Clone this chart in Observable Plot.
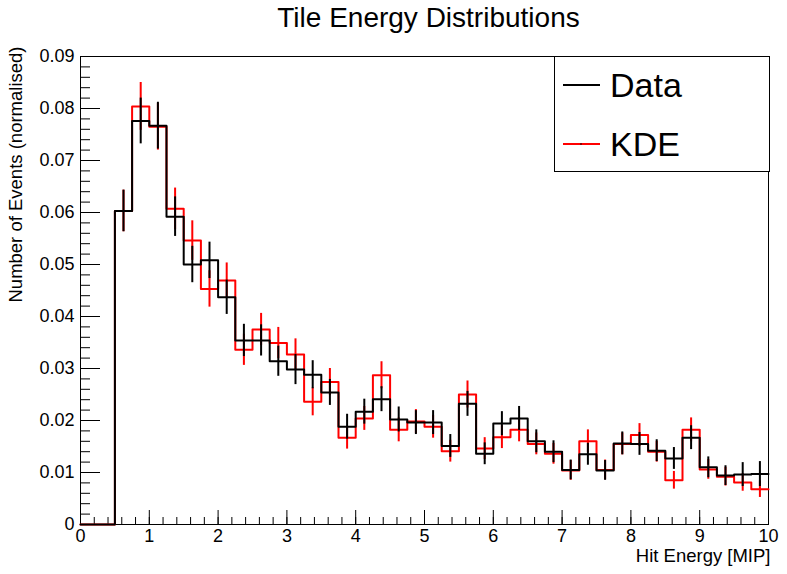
<!DOCTYPE html>
<html>
<head>
<meta charset="utf-8">
<script src="https://cdn.jsdelivr.net/npm/d3@7"></script>
<script src="https://cdn.jsdelivr.net/npm/@observablehq/plot@0.6"></script>
<style>
  body { margin: 0; background: #fff; }
  #chart { position: relative; width: 787px; height: 574px; font-family: "Liberation Sans", Arial, sans-serif; }
  #legend { position: absolute; left: 554px; top: 56px; }
</style>
</head>
<body>
<div id="chart"><div id="legend"></div></div>
<script>
// Histogram bins: lower edges in MIP, each 0.25 wide
const binWidth = 0.25;
const binLow = [0, 0.25, 0.5, 0.75, 1, 1.25, 1.5, 1.75, 2, 2.25, 2.5, 2.75, 3, 3.25, 3.5, 3.75,
  4, 4.25, 4.5, 4.75, 5, 5.25, 5.5, 5.75, 6, 6.25, 6.5, 6.75, 7, 7.25, 7.5, 7.75,
  8, 8.25, 8.5, 8.75, 9, 9.25, 9.5, 9.75];

// Normalised bin contents
const dataValues = [0, 0, 0.0603, 0.0776, 0.0767, 0.0592, 0.0500, 0.0508, 0.0437, 0.0354, 0.0354, 0.0314,
  0.0298, 0.0288, 0.0254, 0.0188, 0.0217, 0.0241, 0.0202, 0.0196, 0.0196, 0.0151, 0.0232, 0.0136,
  0.0194, 0.0204, 0.0160, 0.0140, 0.0105, 0.0135, 0.0104, 0.0156, 0.0155, 0.0142, 0.0127, 0.0167,
  0.0110, 0.0094, 0.0096, 0.0097];
const kdeValues = [0, 0, 0.0603, 0.0804, 0.0765, 0.0607, 0.0546, 0.0453, 0.0469, 0.0336, 0.0375, 0.0349,
  0.0327, 0.0236, 0.0274, 0.0167, 0.0204, 0.0287, 0.0182, 0.0198, 0.0188, 0.0141, 0.0250, 0.0146,
  0.0168, 0.0182, 0.0155, 0.0136, 0.0104, 0.0160, 0.0105, 0.0155, 0.0172, 0.0140, 0.0085, 0.0182,
  0.0106, 0.0092, 0.0081, 0.0068];

// Per-bin uncertainties (half height of the error bars)
const dataErrors = [0, 0, 0.0040, 0.0044, 0.0045, 0.0038, 0.0035, 0.0035, 0.0033, 0.0031, 0.0030, 0.0029,
  0.0029, 0.0027, 0.0025, 0.0024, 0.0024, 0.0024, 0.0024, 0.0023, 0.0023, 0.0022, 0.0024, 0.0021,
  0.0023, 0.0023, 0.0022, 0.0021, 0.0019, 0.0021, 0.0019, 0.0022, 0.0022, 0.0021, 0.0021, 0.0023,
  0.0020, 0.0019, 0.0023, 0.0024];
const kdeErrors = [0, 0, 0.0040, 0.0046, 0.0045, 0.0040, 0.0038, 0.0035, 0.0034, 0.0030, 0.0031, 0.0030,
  0.0030, 0.0027, 0.0026, 0.0022, 0.0023, 0.0026, 0.0023, 0.0023, 0.0022, 0.0021, 0.0026, 0.0021,
  0.0022, 0.0023, 0.0021, 0.0020, 0.0019, 0.0022, 0.0019, 0.0021, 0.0022, 0.0020, 0.0017, 0.0023,
  0.0019, 0.0018, 0.0017, 0.0016];

const seriesNames = ["Data", "KDE"];
const seriesColors = ["#000000", "#ff0000"];

const yMajor = [0, 0.01, 0.02, 0.03, 0.04, 0.05, 0.06, 0.07, 0.08, 0.09];
const xMajor = [0, 1, 2, 3, 4, 5, 6, 7, 8, 9, 10];

function stepPoints(values) {
  const pts = binLow.map((x, i) => ({x, y: values[i]}));
  pts.push({x: binLow[binLow.length - 1] + binWidth, y: values[values.length - 1]});
  return pts;
}
function errorBars(values, errors) {
  return binLow
    .map((x, i) => ({x: x + binWidth / 2, y1: values[i] - errors[i], y2: values[i] + errors[i], v: values[i]}))
    .filter(d => d.v > 0);
}

const yMinor = d3.range(0, 0.0901, 0.002);
const xMinor = d3.range(0, 10.001, 0.2);

const chart = Plot.plot({
  width: 787,
  height: 574,
  marginLeft: 80,
  marginRight: 19,
  marginTop: 56,
  marginBottom: 50,
  x: {domain: [0, 10]},
  y: {domain: [0, 0.09]},
  style: {fontFamily: "Liberation Sans, Arial, sans-serif", fontSize: "18px", color: "#000", background: "#fff", overflow: "visible"},
  marks: [
    Plot.frame({stroke: "#000", strokeWidth: 1}),
    // inward-pointing ticks, labels kept outside the frame
    Plot.axisY({ticks: yMinor, tickSize: -10, tickFormat: () => "", label: null, stroke: "#000", strokeOpacity: 1}),
    Plot.axisY({ticks: yMajor, tickSize: -20, tickPadding: 26, tickFormat: d => d === 0 ? "0" : d3.format(".2f")(d), label: null, fontSize: 18, stroke: "#000", strokeOpacity: 1}),
    Plot.axisX({ticks: xMinor, tickSize: -7, tickFormat: () => "", label: null, stroke: "#000", strokeOpacity: 1}),
    Plot.axisX({ticks: xMajor, tickSize: -14, tickPadding: 19, tickFormat: d3.format("d"), label: null, fontSize: 18, stroke: "#000", strokeOpacity: 1}),
    // KDE histogram
    Plot.line(stepPoints(kdeValues), {x: "x", y: "y", curve: "step-after", stroke: seriesColors[1], strokeWidth: 2}),
    Plot.ruleX(errorBars(kdeValues, kdeErrors), {x: "x", y1: "y1", y2: "y2", stroke: seriesColors[1], strokeWidth: 2}),
    // Data histogram
    Plot.line(stepPoints(dataValues), {x: "x", y: "y", curve: "step-after", stroke: seriesColors[0], strokeWidth: 2}),
    Plot.ruleX(errorBars(dataValues, dataErrors), {x: "x", y1: "y1", y2: "y2", stroke: seriesColors[0], strokeWidth: 2}),
    // Titles
    Plot.text(["Tile Energy Distributions"], {frameAnchor: "top", lineAnchor: "middle", dx: 4, dy: -38, fontSize: 28}),
    Plot.text(["Number of Events (normalised)"], {frameAnchor: "top-left", lineAnchor: "middle", rotate: -90, textAnchor: "end", dx: -64, dy: -10, fontSize: 18.5}),
    Plot.text(["Hit Energy [MIP]"], {frameAnchor: "bottom-right", lineAnchor: "middle", textAnchor: "end", dx: 2, dy: 32, fontSize: 18.5})
  ]
});
const host = document.getElementById("chart");
host.insertBefore(chart, host.firstChild);

// Legend box
const lg = d3.select("#legend").append("svg")
  .attr("width", 217).attr("height", 117)
  .style("display", "block")
  .style("font-family", "Liberation Sans, Arial, sans-serif");
lg.append("rect").attr("x", 0.5).attr("y", 0.5).attr("width", 215).attr("height", 115)
  .attr("fill", "#fff").attr("stroke", "#000").attr("stroke-width", 1);
const rowY = [29, 88];
seriesNames.forEach((name, i) => {
  lg.append("line").attr("x1", 9).attr("x2", 46).attr("y1", rowY[i]).attr("y2", rowY[i])
    .attr("stroke", seriesColors[i]).attr("stroke-width", 2);
  lg.append("text").attr("x", 56).attr("y", rowY[i]).attr("dy", "0.36em")
    .attr("font-size", 34).attr("fill", "#000").text(name);
});
lg.append("circle").attr("cx", 27).attr("cy", rowY[1]).attr("r", 0.8).attr("fill", "#000");
</script>
</body>
</html>
